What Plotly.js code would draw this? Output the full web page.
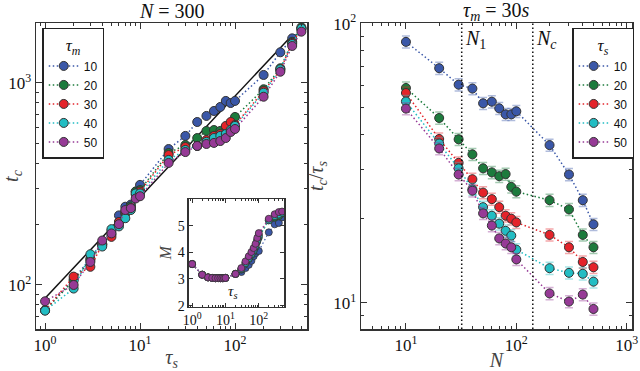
<!DOCTYPE html>
<html>
<head>
<meta charset="utf-8">
<script src="https://cdn.plot.ly/plotly-3.0.1.min.js"></script>
<style>
  body { margin: 0; background: #fff; }
  #chart { width: 640px; height: 371px; }
</style>
</head>
<body>
<div id="chart"></div>
<script>
// left panel: t_c vs tau_s for several tau_m (N = 300)
const tauS = [1, 2, 3, 4, 5, 6, 7, 8, 9, 10, 20, 30, 40, 50, 60, 70, 80, 90, 100, 200, 300, 400, 500];
const tauMLabels = ['10', '20', '30', '40', '50'];
const tcTauM10 = [75, 107, 135, 160, 185, 221, 244, 250, 290, 313, 471, 547, 641, 687, 727, 761, 815, 796, 815, 1096, 1419, 1663, 1850];
const tcTauM20 = [75, 105, 133, 158, 178, 205, 225, 245, 290, 295, 450, 493, 534, 579, 585, 579, 605, 627, 679, 931, 1183, 1600, 1888];
const tcTauM30 = [75, 110, 123, 158, 173, 205, 231, 240, 280, 290, 440, 482, 488, 522, 547, 559, 613, 641, 620, 912, 1160, 1580, 1860];
const tcTauM40 = [74.6, 96, 142, 155, 189, 195, 214, 235, 284, 284, 416, 466, 488, 511, 534, 547, 559, 585, 613, 895, 1170, 1560, 1860];
const tcTauM50 = [83, 100, 130, 166, 180, 200, 235, 240, 268, 275, 402, 455, 488, 499, 505, 516, 534, 572, 592, 855, 1137, 1525, 1795];

// black reference line in the left panel
const refLineTau = [1, 380];
const refLineTc = [86, 1680];

// inset: M vs tau_s
const mTauM10 = [3.56, 3.16, 3.06, 3.04, 3.03, 3.03, 3.03, 3.03, 3.03, 3.04, 3.19, 3.26, 3.41, 3.53, 3.68, 3.85, 3.97, 4.06, 4.05, 4.75, 5.05, 5.10, 5.31];
const mTauM20 = [3.56, 3.16, 3.06, 3.04, 3.03, 3.03, 3.03, 3.03, 3.03, 3.04, 3.19, 3.35, 3.58, 3.75, 3.90, 4.05, 4.20, 4.40, 4.55, 5.20, 5.30, 5.35, 5.45];
const mTauM30 = [3.56, 3.16, 3.06, 3.04, 3.03, 3.03, 3.03, 3.03, 3.03, 3.04, 3.19, 3.38, 3.62, 3.80, 3.95, 4.10, 4.26, 4.47, 4.65, 5.22, 5.38, 5.45, 5.50];
const mTauM40 = [3.56, 3.16, 3.06, 3.04, 3.03, 3.03, 3.03, 3.03, 3.03, 3.04, 3.19, 3.37, 3.60, 3.78, 3.93, 4.08, 4.24, 4.45, 4.62, 5.20, 5.36, 5.42, 5.48];
const mTauM50 = [3.56, 3.16, 3.06, 3.04, 3.03, 3.03, 3.03, 3.03, 3.03, 3.04, 3.19, 3.41, 3.66, 3.85, 4.01, 4.16, 4.32, 4.54, 4.72, 5.26, 5.43, 5.51, 5.53];

// right panel: t_c/tau_s vs N for several tau_s (tau_m = 30s)
const nValues = [10, 20, 30, 40, 50, 60, 70, 80, 90, 100, 200, 300, 400, 500];
const tauSLabels = ['10', '20', '30', '40', '50'];
const ratioTauS10 = [86, 69.2, 60.4, 58.5, 51.8, 52.5, 49.7, 47.3, 47.3, 48.5, 36.7, 28.8, 23.3, 19.1];
const ratioTauS20 = [58.8, 45.9, 38.5, 34.0, 30.3, 29.3, 28.4, 28.9, 26.0, 25.0, 23.3, 21.6, 17.5, 15.8];
const ratioTauS30 = [56.4, 38.6, 31.7, 27.7, 24.8, 23.5, 22.0, 20.5, 20.0, 19.4, 17.5, 15.8, 14.0, 13.4];
const ratioTauS40 = [52.6, 37.2, 30.3, 25.5, 22.0, 20.5, 19.2, 18.1, 17.4, 15.5, 13.3, 12.8, 12.7, 11.9];
const ratioTauS50 = [49.6, 35.7, 28.8, 25.2, 20.9, 18.9, 17.0, 16.3, 15.8, 14.3, 10.8, 10.1, 10.7, 9.5];

// N_1 and N_c markers
const thresholdN = [32, 141];
const thresholdLabels = ['<i>N</i><sub>1</sub>', '<i>N<sub>c</sub></i>'];

// tick labels
const logTicks0to2 = [1, 10, 100];
const logTicks0to2Text = ['10<sup>0</sup>', '10<sup>1</sup>', '10<sup>2</sup>'];
const logTicksLeftY = [100, 1000];
const logTicksLeftYText = ['10<sup>2</sup>', '10<sup>3</sup>'];
const logTicksRightX = [10, 100, 1000];
const logTicksRightXText = ['10<sup>1</sup>', '10<sup>2</sup>', '10<sup>3</sup>'];
const logTicksRightY = [10, 100];
const logTicksRightYText = ['10<sup>1</sup>', '10<sup>2</sup>'];
const insetYTicks = [2, 3, 4, 5];

const colors = ['#3a57a8', '#1c7b3d', '#e4232a', '#22bdc3', '#963a96'];
const errColors = ['rgba(58,87,168,0.4)', 'rgba(28,123,61,0.4)', 'rgba(228,35,42,0.4)', 'rgba(34,189,195,0.4)', 'rgba(150,58,150,0.4)'];

const serif = 'Liberation Serif, DejaVu Serif, serif';
const sans = 'Liberation Sans, Arial, sans-serif';
const dotted = '1.5px,2.5px';

const leftSeries = [tcTauM10, tcTauM20, tcTauM30, tcTauM40, tcTauM50];
const insetSeries = [mTauM10, mTauM20, mTauM30, mTauM40, mTauM50];
const rightSeries = [ratioTauS10, ratioTauS20, ratioTauS30, ratioTauS40, ratioTauS50];

const traces = [];

traces.push({
    x: refLineTau, y: refLineTc, type: 'scatter', mode: 'lines',
    xaxis: 'x', yaxis: 'y', showlegend: false, hoverinfo: 'skip',
    line: { color: '#111', width: 1.5 }
});

leftSeries.forEach((ys, i) => {
    traces.push({
        x: tauS, y: ys, type: 'scatter', mode: 'lines+markers',
        name: tauMLabels[i], xaxis: 'x', yaxis: 'y', legend: 'legend',
        line: { color: colors[i], dash: dotted, width: 1.5 },
        marker: { size: 9, color: colors[i], line: { color: '#333', width: 1 } },
        error_y: { type: 'percent', value: 3, color: errColors[i], thickness: 1.5, width: 3 }
    });
});

insetSeries.forEach((ys, i) => {
    traces.push({
        x: tauS, y: ys, type: 'scatter', mode: 'lines+markers',
        xaxis: 'x3', yaxis: 'y3', showlegend: false,
        line: { color: colors[i], dash: dotted, width: 1.2 },
        marker: { size: 7, color: colors[i], line: { color: '#333', width: 0.8 } }
    });
});

rightSeries.forEach((ys, i) => {
    traces.push({
        x: nValues, y: ys, type: 'scatter', mode: 'lines+markers',
        name: tauSLabels[i], xaxis: 'x2', yaxis: 'y2', legend: 'legend2',
        line: { color: colors[i], dash: dotted, width: 1.5 },
        marker: { size: 9, color: colors[i], line: { color: '#333', width: 1 } },
        error_y: { type: 'percent', value: 5, color: errColors[i], thickness: 1.5, width: 4 }
    });
});

function frameAxis(extra) {
    return Object.assign({
        showline: true, mirror: 'ticks', linecolor: '#333', linewidth: 1.5,
        ticks: 'inside', ticklen: 6, tickwidth: 1, tickcolor: '#333',
        showgrid: false, zeroline: false,
        tickfont: { family: serif, size: 17, color: '#111' }
    }, extra);
}

const minorLog = { ticks: 'inside', ticklen: 3, tickwidth: 1, tickcolor: '#333', dtick: 'D1', showgrid: false };

const legendBase = {
    xanchor: 'left', yanchor: 'top',
    bgcolor: 'white', bordercolor: '#222', borderwidth: 1.5,
    font: { family: sans, size: 12, color: '#111' },
    tracegroupgap: 0
};

const layout = {
    width: 640, height: 371,
    margin: { l: 0, r: 0, t: 0, b: 0 },
    paper_bgcolor: 'white', plot_bgcolor: 'white',
    showlegend: true,
    xaxis: frameAxis({
        type: 'log', domain: [0.0563, 0.4797], range: [-0.095, 2.758], anchor: 'y',
        tickmode: 'array', tickvals: logTicks0to2, ticktext: logTicks0to2Text, minor: minorLog,
        title: { text: '<i>τ<sub>s</sub></i>', font: { family: serif, size: 20 }, standoff: 6 }
    }),
    yaxis: frameAxis({
        type: 'log', domain: [0.1132, 0.938], range: [1.782, 3.297], anchor: 'x',
        tickmode: 'array', tickvals: logTicksLeftY, ticktext: logTicksLeftYText, minor: minorLog,
        title: { text: '<i>t<sub>c</sub></i>', font: { family: serif, size: 20 }, standoff: 4 }
    }),
    xaxis2: frameAxis({
        type: 'log', domain: [0.5641, 0.9875], range: [0.593, 3.048], anchor: 'y2',
        tickmode: 'array', tickvals: logTicksRightX, ticktext: logTicksRightXText, minor: minorLog,
        title: { text: '<i>N</i>', font: { family: serif, size: 20 }, standoff: 6 }
    }),
    yaxis2: frameAxis({
        type: 'log', domain: [0.1132, 0.938], range: [0.906, 2.002], anchor: 'x2',
        tickmode: 'array', tickvals: logTicksRightY, ticktext: logTicksRightYText, minor: minorLog,
        title: { text: '<i>t<sub>c</sub></i>/<i>τ<sub>s</sub></i>', font: { family: serif, size: 20 }, standoff: 4 }
    }),
    xaxis3: frameAxis({
        type: 'log', domain: [0.2953, 0.4438], range: [-0.095, 2.758], anchor: 'y3',
        tickmode: 'array', tickvals: logTicks0to2, ticktext: logTicks0to2Text,
        minor: Object.assign({}, minorLog, { ticklen: 2 }), ticklen: 4,
        tickfont: { family: serif, size: 14, color: '#111' }
    }),
    yaxis3: frameAxis({
        domain: [0.1733, 0.4636], range: [1.96, 6.0], anchor: 'x3',
        tickmode: 'array', tickvals: insetYTicks, ticklen: 4,
        tickfont: { family: serif, size: 14, color: '#111' },
        title: { text: '<i>M</i>', font: { family: serif, size: 16 }, standoff: 2 }
    }),
    legend: Object.assign({}, legendBase, {
        x: 0.066, y: 0.925,
        title: { text: '<i>τ<sub>m</sub></i>', side: 'top center', font: { family: serif, size: 17 } }
    }),
    legend2: Object.assign({}, legendBase, {
        x: 0.894, y: 0.925,
        title: { text: '<i>τ<sub>s</sub></i>', side: 'top center', font: { family: serif, size: 17 } }
    }),
    shapes: thresholdN.map(n => ({
        type: 'line', xref: 'x2', yref: 'y2 domain', x0: n, x1: n, y0: 0, y1: 1,
        line: { color: '#111', width: 1.5, dash: dotted }
    })),
    annotations: [
        {
            text: '<i>N</i> = 300', xref: 'paper', yref: 'paper', x: 0.268, y: 0.97,
            xanchor: 'center', yanchor: 'middle', showarrow: false,
            font: { family: serif, size: 20, color: '#111' }
        },
        {
            text: '<i>τ<sub>m</sub></i> = 30<i>s</i>', xref: 'paper', yref: 'paper', x: 0.775, y: 0.97,
            xanchor: 'center', yanchor: 'middle', showarrow: false,
            font: { family: serif, size: 20, color: '#111' }
        },
        {
            text: '<i>τ<sub>s</sub></i>', xref: 'paper', yref: 'paper', x: 0.3625, y: 0.213,
            xanchor: 'center', yanchor: 'middle', showarrow: false,
            font: { family: serif, size: 15, color: '#111' }
        }
    ].concat(thresholdN.map((n, i) => ({
        text: thresholdLabels[i], xref: 'x2', yref: 'paper', x: Math.log10(n), y: 0.893,
        xanchor: 'left', yanchor: 'middle', showarrow: false, xshift: 1,
        font: { family: serif, size: 20, color: '#111' }
    })))
};

Plotly.newPlot('chart', traces, layout, { displayModeBar: false, staticPlot: true });
</script>
</body>
</html>
